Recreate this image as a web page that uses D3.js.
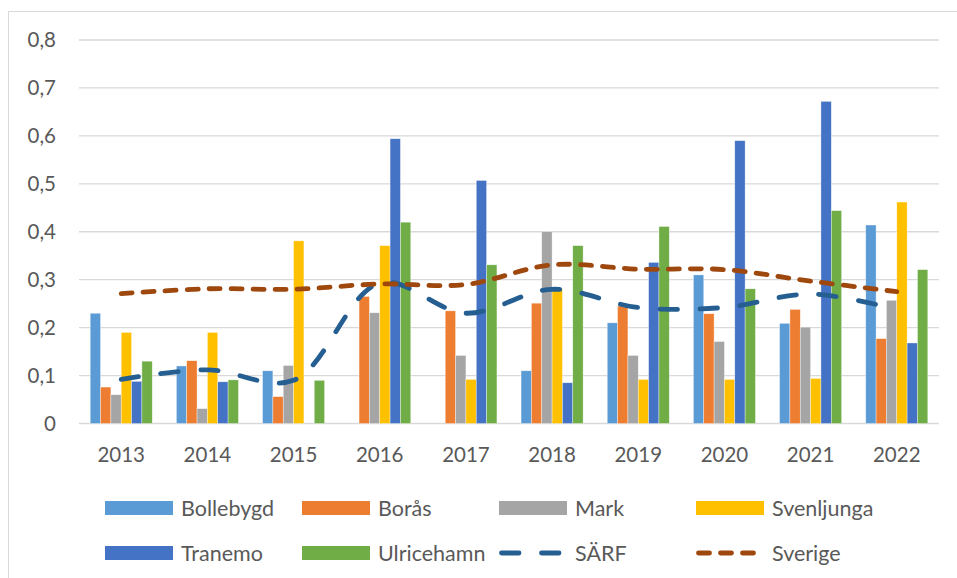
<!DOCTYPE html>
<html>
<head>
<meta charset="utf-8">
<script src="https://cdn.jsdelivr.net/npm/d3@7"></script>
<style>
  body { margin: 0; background: #fff; }
  svg text { font-family: Lato, "Open Sans", sans-serif; fill: #595959; }
</style>
</head>
<body>
<div id="chart"></div>
<script>
// data
var years = ["2013", "2014", "2015", "2016", "2017", "2018", "2019", "2020", "2021", "2022"];
var barSeries = ["Bollebygd", "Borås", "Mark", "Svenljunga", "Tranemo", "Ulricehamn"];
var bollebygd  = [0.23, 0.12, 0.11, 0, 0, 0.11, 0.21, 0.31, 0.209, 0.414];
var boras      = [0.076, 0.131, 0.056, 0.265, 0.235, 0.251, 0.245, 0.229, 0.238, 0.177];
var mark       = [0.06, 0.031, 0.121, 0.231, 0.142, 0.40, 0.142, 0.171, 0.201, 0.257];
var svenljunga = [0.19, 0.19, 0.381, 0.371, 0.092, 0.281, 0.092, 0.092, 0.094, 0.462];
var tranemo    = [0.088, 0.087, 0, 0.594, 0.507, 0.085, 0.336, 0.59, 0.672, 0.168];
var ulricehamn = [0.13, 0.091, 0.09, 0.42, 0.331, 0.371, 0.411, 0.281, 0.444, 0.321];
var sarf       = [0.092, 0.112, 0.09, 0.293, 0.23, 0.28, 0.242, 0.242, 0.27, 0.238];
var sverige    = [0.271, 0.281, 0.28, 0.291, 0.29, 0.331, 0.322, 0.321, 0.297, 0.275];
var yTicks = [0, 0.1, 0.2, 0.3, 0.4, 0.5, 0.6, 0.7, 0.8];

var barValues = [bollebygd, boras, mark, svenljunga, tranemo, ulricehamn];
var barColors = ["#5B9BD5", "#ED7D31", "#A5A5A5", "#FFC000", "#4472C4", "#70AD47"];

var width = 957, height = 578;

var svg = d3.select("#chart").append("svg")
    .attr("width", width)
    .attr("height", height);

// outer frame
svg.append("rect")
    .attr("x", 8.5).attr("y", 11.5)
    .attr("width", 1000).attr("height", 700)
    .attr("fill", "none")
    .attr("stroke", "#d9d9d9");

var x0 = d3.scaleBand()
    .domain(years)
    .range([79, 939])
    .paddingInner(0.28)
    .paddingOuter(0.13);

var x1 = d3.scaleBand()
    .domain(barSeries)
    .range([0, x0.bandwidth()]);

var y = d3.scaleLinear()
    .domain([0, 0.8])
    .range([423.5, 40]);

var fmt = function(d) { return d === 0 ? "0" : d3.format(".1f")(d).replace(".", ","); };

// gridlines
svg.append("g")
    .selectAll("line")
    .data(yTicks)
    .enter().append("line")
      .attr("x1", 79).attr("x2", 939)
      .attr("y1", function(d) { return y(d); })
      .attr("y2", function(d) { return y(d); })
      .attr("stroke", "#d9d9d9")
      .attr("stroke-width", 1.3);

// y labels
svg.append("g")
    .selectAll("text")
    .data(yTicks)
    .enter().append("text")
      .attr("x", 56)
      .attr("y", function(d) { return y(d); })
      .attr("dy", "0.36em")
      .attr("text-anchor", "end")
      .style("font-size", "20.5px")
      .text(fmt);

// x labels
svg.append("g")
    .selectAll("text")
    .data(years)
    .enter().append("text")
      .attr("x", function(d) { return x0(d) + x0.bandwidth() / 2; })
      .attr("y", 462)
      .attr("text-anchor", "middle")
      .style("font-size", "20.5px")
      .text(function(d) { return d; });

// bars
barSeries.forEach(function(s, i) {
    svg.append("g")
        .selectAll("rect")
        .data(years)
        .enter().append("rect")
          .attr("x", function(d) { return x0(d) + x1(s); })
          .attr("width", x1.bandwidth())
          .attr("y", function(d, j) { return y(barValues[i][j]); })
          .attr("height", function(d, j) { return y(0) - y(barValues[i][j]); })
          .attr("fill", barColors[i])
          .attr("stroke", "#fff")
          .attr("stroke-width", 0.6)
          .attr("stroke-opacity", 0.6);
});

// lines
var line = d3.line()
    .x(function(d, j) { return x0(years[j]) + x0.bandwidth() / 2; })
    .y(function(d) { return y(d); })
    .curve(d3.curveCatmullRom.alpha(0.5));

svg.append("path")
    .datum(sarf)
    .attr("d", line)
    .attr("fill", "none")
    .attr("stroke", "#255E91")
    .attr("stroke-width", 4.8)
    .attr("stroke-linecap", "round")
    .attr("stroke-dasharray", "17.5,22.5");

svg.append("path")
    .datum(sverige)
    .attr("d", line)
    .attr("fill", "none")
    .attr("stroke", "#9E480E")
    .attr("stroke-width", 4.8)
    .attr("stroke-linecap", "round")
    .attr("stroke-dasharray", "11,11");

// legend
var legendItems = [
    {name: "Bollebygd", type: "bar", color: barColors[0]},
    {name: "Borås", type: "bar", color: barColors[1]},
    {name: "Mark", type: "bar", color: barColors[2]},
    {name: "Svenljunga", type: "bar", color: barColors[3]},
    {name: "Tranemo", type: "bar", color: barColors[4]},
    {name: "Ulricehamn", type: "bar", color: barColors[5]},
    {name: "SÄRF", type: "line", color: "#255E91", dash: "17.5,22.5"},
    {name: "Sverige", type: "line", color: "#9E480E", dash: "11,11"}
];
var colX = [105, 302, 499, 696];
var rowY = [508, 553];

var leg = svg.append("g")
    .selectAll("g")
    .data(legendItems)
    .enter().append("g")
      .attr("transform", function(d, i) {
          return "translate(" + colX[i % 4] + "," + rowY[Math.floor(i / 4)] + ")";
      });

leg.filter(function(d) { return d.type === "bar"; })
    .append("rect")
      .attr("x", 0).attr("y", -7)
      .attr("width", 68).attr("height", 14)
      .attr("fill", function(d) { return d.color; });

leg.filter(function(d) { return d.type === "line"; })
    .append("line")
      .attr("x1", 0).attr("x2", 66)
      .attr("y1", 0).attr("y2", 0)
      .attr("stroke", function(d) { return d.color; })
      .attr("stroke-width", 4.8)
      .attr("stroke-linecap", "round")
      .attr("stroke-dasharray", function(d) { return d.dash; })
      .attr("stroke-dashoffset", -2.5);

leg.append("text")
    .attr("x", 76)
    .attr("y", 0)
    .attr("dy", "0.36em")
    .style("font-size", "21.5px")
    .text(function(d) { return d.name; });
</script>
</body>
</html>
